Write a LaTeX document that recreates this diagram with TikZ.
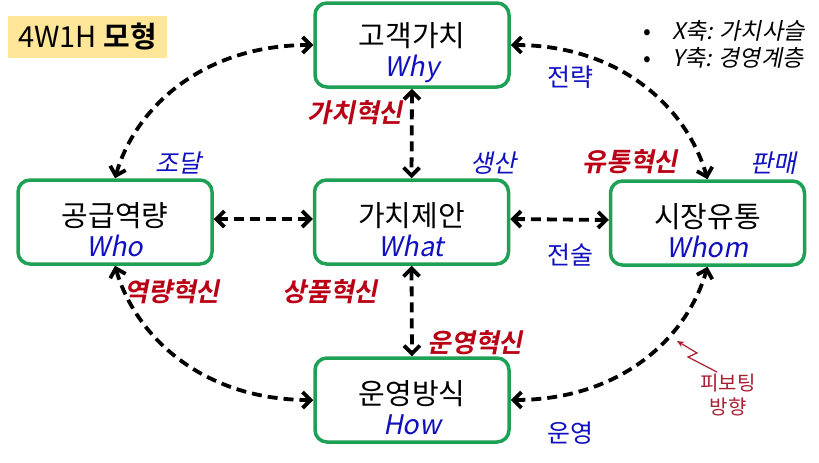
\documentclass[tikz,border=0pt]{standalone}
\usepackage{fontspec}
\setmainfont{Noto Sans CJK KR}[ItalicFont={Noto Sans CJK KR}, ItalicFeatures={FakeSlant=0.2}, BoldFont={Noto Sans CJK KR Bold}, BoldItalicFont={Noto Sans CJK KR Bold}, BoldItalicFeatures={FakeSlant=0.2}]
\usetikzlibrary{arrows.meta}
\definecolor{boxgreen}{RGB}{30,160,85}
\definecolor{lblblue}{RGB}{16,16,192}
\definecolor{lblred}{RGB}{185,0,20}
\definecolor{pivred}{RGB}{170,30,50}
\definecolor{titlebg}{RGB}{255,230,153}
\newcommand{\boxtext}[2]{#1\\{\itshape\color{lblblue}\fontsize{27}{31}\selectfont #2}}
\begin{document}
\begin{tikzpicture}[x=1pt,y=1pt,
  box/.style={draw=boxgreen, line width=3.5pt, rounded corners=12pt, fill=white,
    minimum width=194pt, minimum height=84pt, inner sep=0pt},
  boxlbl/.style={label={[align=center, inner sep=0pt, yshift=-8pt,
    font=\fontsize{29}{30}\selectfont]center:#1}},
  link/.style={line width=3.8pt, dash pattern=on 10pt off 6pt,
    {Straight Barb[length=8pt,width=16pt]}-{Straight Barb[length=8pt,width=16pt]}},
  redlbl/.style={text=lblred, font=\fontsize{26}{30}\selectfont\bfseries\itshape, inner sep=0pt},
  bluelbl/.style={text=lblblue, font=\fontsize{25}{30}\selectfont, inner sep=0pt},
  blueit/.style={text=lblblue, font=\fontsize{25}{30}\selectfont\itshape, inner sep=0pt},
]
\useasboundingbox (0,0) rectangle (819,-463);

% title
\node[fill=titlebg, minimum width=159pt, minimum height=42pt, inner sep=0pt,
  font=\fontsize{29}{32}\selectfont] (title) at (87.5,-37) {4W1H \textbf{모형}};

% legend
\node[anchor=west, align=left, inner sep=0pt, font=\fontsize{23}{27}\selectfont] (legend) at (643,-44)
  {\makebox[29pt][l]{•}\textit{X축: 가치사슬}\\\makebox[29pt][l]{•}\textit{Y축: 경영계층}};

% boxes
\node[box, boxlbl={\boxtext{고객가치}{Why}}] (T) at (412,-45) {};
\node[box, boxlbl={\boxtext{공급역량}{Who}}] (L) at (115,-222) {};
\node[box, boxlbl={\boxtext{가치제안}{What}}] (C) at (411.5,-222) {};
\node[box, boxlbl={\boxtext{시장유통}{Whom}}] (R) at (707.5,-223) {};
\node[box, boxlbl={\boxtext{운영방식}{How}}] (B) at (412,-400) {};

% links
\draw[link] (L.north) .. controls +(20,70) and +(-111,0) .. (T.west);
\draw[link] (T.east) .. controls +(111,0) and +(-20,70) .. (R.north);
\draw[link] (L.south) .. controls +(20,-70) and +(-111,0) .. (B.west);
\draw[link] (B.east) .. controls +(111,0) and +(-20,-70) .. (R.south);
\draw[link] (T.south) -- (C.north);
\draw[link] (C.south) -- (B.north);
\draw[link] ([yshift=3pt]L.east) -- ([yshift=3pt]C.west);
\draw[link] ([yshift=3pt]C.east) -- ([yshift=3pt]R.west);

% labels
\node[redlbl] (l1) at (355,-113) {가치혁신};
\node[redlbl] (l2) at (630,-162) {유통혁신};
\node[redlbl] (l3) at (172,-292) {역량혁신};
\node[redlbl] (l4) at (330,-292) {상품혁신};
\node[redlbl] (l5) at (475,-343) {운영혁신};
\node[bluelbl] (b1) at (570,-77) {전략};
\node[bluelbl] (b2) at (570,-255) {전술};
\node[bluelbl] (b3) at (570,-433) {운영};
\node[blueit] (b4) at (178,-163) {조달};
\node[blueit] (b5) at (493,-163) {생산};
\node[blueit] (b6) at (773,-163) {판매};

% pivot annotation
\node[text=pivred, align=center, inner sep=0pt, font=\fontsize{20}{24}\selectfont] (piv) at (728,-395) {피보팅\\방향};
\coordinate (p1) at (717,-372);
\coordinate (p2) at (688,-357);
\coordinate (p3) at (697,-353);
\coordinate (p4) at (677,-341);
\draw[pivred, line width=1.2pt, -{Stealth[length=7pt,width=6pt]}] (p1) -- (p2) -- (p3) -- (p4);
\end{tikzpicture}
\end{document}
